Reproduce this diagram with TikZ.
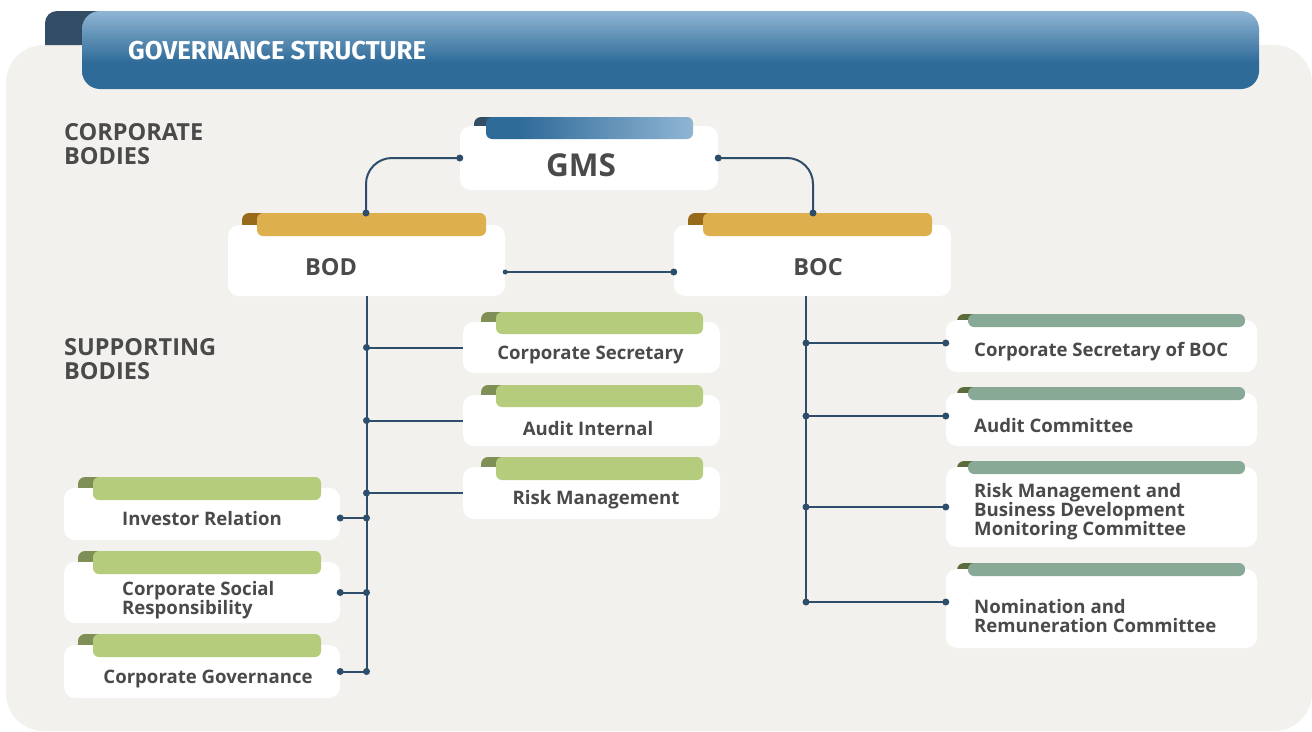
\documentclass[tikz,border=0pt]{standalone}
\usepackage{fontspec}
\setmainfont{Open Sans}
\newfontfamily\titlefont{Fira Sans}
\usetikzlibrary{fit,calc}
\definecolor{panelcol}{HTML}{F2F1EE}
\definecolor{hdrdark}{HTML}{2F6B99}
\definecolor{hdrlight}{HTML}{90B5D3}
\definecolor{hdrtabcol}{HTML}{344D66}
\definecolor{goldcol}{HTML}{DDB04D}
\definecolor{golddark}{HTML}{976A1C}
\definecolor{greencol}{HTML}{B5CC7C}
\definecolor{greendark}{HTML}{7F8F55}
\definecolor{sagecol}{HTML}{87A995}
\definecolor{sagedark}{HTML}{5C6B3B}
\definecolor{linecol}{HTML}{2E4D6B}
\definecolor{txtcol}{HTML}{4A4A4A}
\pgfdeclareverticalshading{hdrshade}{100bp}{color(0bp)=(hdrdark); color(42bp)=(hdrdark); color(75bp)=(hdrlight); color(100bp)=(hdrlight)}
\pgfdeclarehorizontalshading{gmsshade}{100bp}{color(0bp)=(hdrdark); color(33bp)=(hdrdark); color(75bp)=(hdrlight); color(100bp)=(hdrlight)}
\tikzset{
  whitebox/.style={fill=white, draw=none, rounded corners=11pt, inner sep=0pt},
  darkgms/.style={fill=hdrtabcol},
  tabgms/.style={shade, shading=gmsshade},
  darkgold/.style={fill=golddark},
  tabgold/.style={fill=goldcol},
  darkgreen/.style={fill=greendark},
  tabgreen/.style={fill=greencol},
  darksage/.style={fill=sagedark},
  tabsage/.style={fill=sagecol},
  conn/.style={draw=linecol, line width=2pt},
  titletext/.style={text=white, inner sep=0pt, font=\titlefont\bfseries\fontsize{25.8}{30}\selectfont},
  heading/.style={text=txtcol, inner sep=0pt, align=left, font=\bfseries\fontsize{23.5}{24}\selectfont},
  bigtext/.style={text=txtcol, inner sep=0pt, font=\bfseries\fontsize{31.5}{36}\selectfont},
  midtext/.style={text=txtcol, inner sep=0pt, font=\bfseries\fontsize{23.5}{27}\selectfont},
  boxtext/.style={text=txtcol, inner sep=0pt, yshift=-1.5pt, align=left, font=\bfseries\fontsize{18.6}{19}\selectfont},
}
\newcommand\orgbox[9]{%
  \fill[dark#9] (#4,#8) [rounded corners=7pt] -- (#4,#7) [sharp corners] -- (#5+10,#7) -- (#5+10,#8) -- cycle;
  \node[whitebox, fit={(#2) (#3)}] (#1) {};
  \path[tab#9, rounded corners=6pt] (#5,#7) rectangle (#6,#8);
}
\newcommand\dotat[1]{\fill[linecol] (#1) circle (3.5);}
\begin{document}
\begin{tikzpicture}[x=1pt,y=-1pt]
\useasboundingbox (0,0) rectangle (1312,731);
\fill[white] (0,0) rectangle (1312,731);
\fill[panelcol, rounded corners=38pt] (6,45) rectangle (1312,731);
\fill[hdrtabcol] (45,45) [rounded corners=12pt] -- (45,11) [sharp corners] -- (100,11) -- (100,45) -- cycle;
\shade[shading=hdrshade, rounded corners=18pt] (82,11) rectangle (1259,89);
\node[titletext, anchor=west] (title) at (128,51) {GOVERNANCE STRUCTURE};

\node[heading, anchor=west] (hcorp) at (64,144.5) {CORPORATE\\BODIES};
\node[heading, anchor=west] (hsupp) at (64,359) {SUPPORTING\\BODIES};

% corporate bodies
\orgbox{gms}{460,126}{718,190}{474}{486}{693}{117}{139}{gms}
\orgbox{bod}{228,225}{505,296}{242}{257}{486}{213}{236}{gold}
\orgbox{boc}{674,225}{951,296}{688}{703}{932}{213}{236}{gold}
\node[bigtext] (gmst) at (581,165) {GMS};
\node[midtext] (bodt) at (331,267) {BOD};
\node[midtext] (boct) at (818,267) {BOC};

% supporting bodies of BOD
\orgbox{cs}{463,322}{720,373}{481}{496}{703}{312}{334}{green}
\orgbox{ai}{463,395}{720,446}{481}{496}{703}{385}{407}{green}
\orgbox{rm}{463,467}{720,519}{481}{496}{703}{457}{480}{green}
\orgbox{ir}{64,488}{340,540}{78}{93}{321}{477}{500}{green}
\orgbox{csr}{64,562}{340,623}{78}{93}{321}{551}{574}{green}
\orgbox{cg}{64,645}{340,698}{78}{93}{321}{634}{657}{green}
\node[boxtext] (cst) at (590.5,353) {Corporate Secretary};
\node[boxtext] (ait) at (588,427) {Audit Internal};
\node[boxtext] (rmt) at (596,498) {Risk Management};
\node[boxtext] (irt) at (202,517) {Investor Relation};
\node[boxtext, anchor=west] (csrt) at (122,599) {Corporate Social\\Responsibility};
\node[boxtext] (cgt) at (208,677) {Corporate Governance};

% supporting bodies of BOC
\orgbox{csb}{946,320}{1257,372}{957}{968}{1245}{314}{327}{sage}
\orgbox{ac}{946,393}{1257,446}{957}{968}{1245}{387}{400}{sage}
\orgbox{rmb}{946,467}{1257,547}{957}{968}{1245}{461}{474}{sage}
\orgbox{nrc}{946,569}{1257,648}{957}{968}{1245}{563}{576}{sage}
\node[boxtext, anchor=west] (csbt) at (974,350) {Corporate Secretary of BOC};
\node[boxtext, anchor=west] (act) at (974,424) {Audit Committee};
\node[boxtext, anchor=west] (rmbt) at (974,510) {Risk Management and\\Business Development\\Monitoring Committee};
\node[boxtext, anchor=west] (nrct) at (974,614.5) {Nomination and\\Remuneration Committee};

% connectors GMS
\coordinate (bodtop) at (366,213);
\coordinate (boctop) at (813,213);
\draw[conn, rounded corners=26pt] (gms.west) -| (bodtop);
\draw[conn, rounded corners=26pt] (gms.east) -| (boctop);
\dotat{gms.west}\dotat{gms.east}\dotat{bodtop}\dotat{boctop}

% BOD - BOC
\coordinate (bb) at (0,272);
\draw[conn] (bod.east |- bb) -- (boc.west |- bb);
\fill[linecol] (bod.east |- bb) circle (2.5);
\dotat{boc.west |- bb}

% BOD trunk
\draw[conn] (bod.south) -- (bod.south |- cg.east);
\foreach \b in {cs,ai,rm}{
  \draw[conn] (bod.south |- \b.west) -- (\b.west);
  \dotat{bod.south |- \b.west}
}
\coordinate (irl) at ([yshift=-4pt]ir.east);
\draw[conn] (irl) -- (bod.south |- irl);
\dotat{irl}\dotat{bod.south |- irl}
\foreach \b in {csr,cg}{
  \draw[conn] (\b.east) -- (bod.south |- \b.east);
  \dotat{\b.east}\dotat{bod.south |- \b.east}
}

% BOC trunk
\coordinate (boctrunk) at ([xshift=-6.5pt]boc.south);
\coordinate (b1) at ([yshift=3pt]csb.west);
\coordinate (b2) at ([yshift=3.5pt]ac.west);
\coordinate (b3) at (rmb.west);
\coordinate (b4) at ([yshift=6.5pt]nrc.west);
\draw[conn] (boctrunk) -- (boctrunk |- b4);
\foreach \b in {b1,b2,b3,b4}{
  \draw[conn] (boctrunk |- \b) -- (\b);
  \dotat{boctrunk |- \b}\dotat{\b}
}
\end{tikzpicture}
\end{document}
